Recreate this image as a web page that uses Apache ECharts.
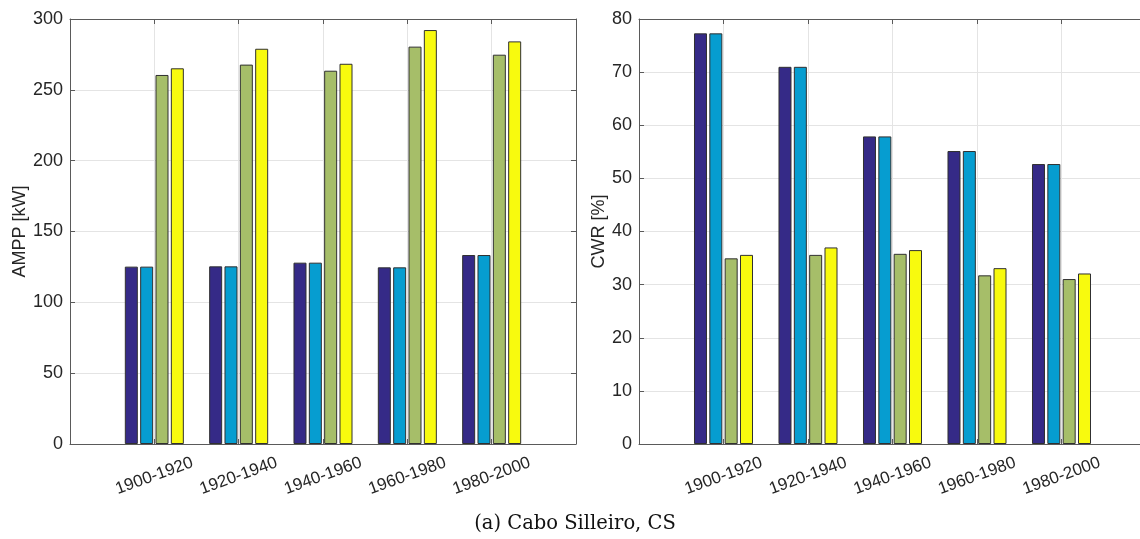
<!DOCTYPE html>
<html>
<head>
<meta charset="utf-8">
<script src="https://cdn.jsdelivr.net/npm/echarts@6/dist/echarts.min.js"></script>
<style>
html,body{margin:0;padding:0;background:#fff;}
#chart{width:1140px;height:539px;}
</style>
</head>
<body>
<div id="chart"></div>
<script>
// ---- data ----
const categories = ['1900-1920', '1920-1940', '1940-1960', '1960-1980', '1980-2000'];
const amppS1 = [125.2, 125.4, 128.0, 124.7, 133.4];
const amppS2 = [125.2, 125.4, 128.0, 124.7, 133.4];
const amppS3 = [260.5, 267.8, 263.5, 280.5, 274.8];
const amppS4 = [265.2, 279.0, 268.4, 292.2, 284.2];
const cwrS1 = [77.3, 71.0, 57.9, 55.15, 52.7];
const cwrS2 = [77.3, 71.0, 57.9, 55.15, 52.7];
const cwrS3 = [34.95, 35.6, 35.8, 31.75, 31.05];
const cwrS4 = [35.6, 37.0, 36.5, 33.1, 32.1];
const amppTicks = {min: 0, max: 300, interval: 50};
const cwrTicks = {min: 0, max: 80, interval: 10};
const leftTitle = 'AMPP [kW]';
const rightTitle = 'CWR [%]';
const caption = '(a) Cabo Silleiro, CS';

const colors = ['#352A87', '#069DD0', '#A6BE69', '#F8FA0E'];
const FONT = 'Liberation Sans, Arial, sans-serif';
const axisCol = '#5a5a5a';
const txtCol = '#262626';
const gridCol = '#e4e4e4';

function pairs(arr) { return arr.map((v, i) => [i + 1, v]); }

const grids = [
  {left: 70, top: 19, width: 506, height: 425, outerBoundsMode: 'none', containLabel: false},
  {left: 639, top: 19, width: 507, height: 425, outerBoundsMode: 'none', containLabel: false}
];

const xAxes = [];
const yAxes = [];
[0, 1].forEach(g => {
  xAxes.push({
    type: 'value', gridIndex: g, min: 0, max: 6, interval: 1,
    axisLine: {show: true, onZero: false, lineStyle: {color: axisCol, width: 1}},
    axisTick: {show: true, inside: true, length: 5, lineStyle: {color: axisCol}},
    splitLine: {show: true, lineStyle: {color: gridCol, width: 1}},
    axisLabel: {
      show: true, rotate: 20, align: 'center', verticalAlign: 'middle', margin: 32,
      fontFamily: FONT, fontSize: 17, color: txtCol, hideOverlap: false,
      formatter: v => (v >= 1 && v <= categories.length) ? categories[v - 1] : ''
    }
  });
  xAxes.push({
    type: 'value', gridIndex: g, min: 0, max: 6, interval: 1, position: 'top',
    axisLine: {show: true, onZero: false, lineStyle: {color: axisCol, width: 1}},
    axisTick: {show: true, inside: true, length: 5, lineStyle: {color: axisCol}},
    splitLine: {show: false}, axisLabel: {show: false}
  });
  const t = g === 0 ? amppTicks : cwrTicks;
  yAxes.push({
    type: 'value', gridIndex: g, min: t.min, max: t.max, interval: t.interval,
    name: g === 0 ? leftTitle : rightTitle,
    nameLocation: 'middle', nameGap: g === 0 ? 41 : 31, nameRotate: 90, nameMoveOverlap: false,
    nameTextStyle: {fontFamily: FONT, fontSize: 18, color: txtCol},
    axisLine: {show: true, onZero: false, lineStyle: {color: axisCol, width: 1}},
    axisTick: {show: true, inside: true, length: 5, lineStyle: {color: axisCol}},
    splitLine: {show: true, lineStyle: {color: gridCol, width: 1}},
    axisLabel: {show: true, margin: 7, fontFamily: FONT, fontSize: 18, color: txtCol}
  });
  yAxes.push({
    type: 'value', gridIndex: g, min: t.min, max: t.max, interval: t.interval, position: 'right',
    axisLine: {show: true, onZero: false, lineStyle: {color: axisCol, width: 1}},
    axisTick: {show: true, inside: true, length: 5, lineStyle: {color: axisCol}},
    splitLine: {show: false}, axisLabel: {show: false}
  });
});

function barSeries(data, idx, g) {
  return {
    type: 'bar', xAxisIndex: g * 2, yAxisIndex: g * 2,
    data: pairs(data), barWidth: 13, barGap: '18%',
    itemStyle: {color: colors[idx], borderColor: '#303030', borderWidth: 1},
    emphasis: {disabled: true}, animation: false
  };
}

const series = [
  barSeries(amppS1, 0, 0), barSeries(amppS2, 1, 0), barSeries(amppS3, 2, 0), barSeries(amppS4, 3, 0),
  barSeries(cwrS1, 0, 1), barSeries(cwrS2, 1, 1), barSeries(cwrS3, 2, 1), barSeries(cwrS4, 3, 1)
];

const chart = echarts.init(document.getElementById('chart'), null, {renderer: 'canvas'});
chart.setOption({
  animation: false,
  backgroundColor: '#ffffff',
  title: {
    text: caption, left: 570, top: 509, textAlign: 'center',
    textStyle: {fontFamily: 'DejaVu Serif, serif', fontSize: 19.5, fontWeight: 'normal', color: '#111'}
  },
  grid: grids,
  xAxis: xAxes,
  yAxis: yAxes,
  series: series
});
</script>
</body>
</html>
